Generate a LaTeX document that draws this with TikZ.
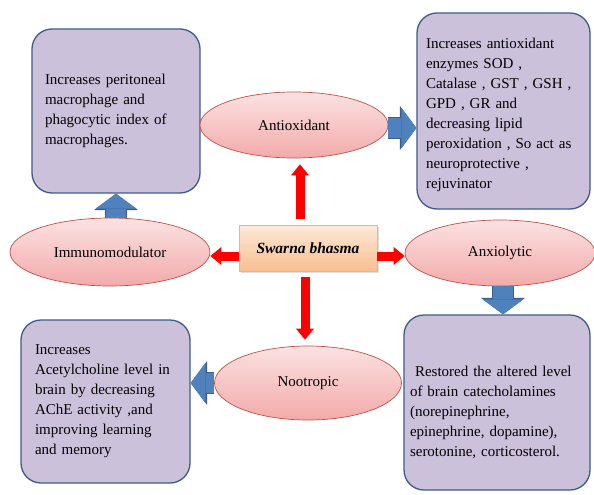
\documentclass[tikz,border=0pt]{standalone}
\usepackage{fontspec}
\setmainfont{Liberation Serif}
\usetikzlibrary{shapes.geometric,arrows.meta,shadows}

\begin{document}
\begin{tikzpicture}[x=1pt,y=-1pt,
  effectbox/.style={draw=boxline, line width=1.3pt, fill=boxfill, rounded corners=20pt, align=left, inner ysep=0pt, font=\fontsize{15}{20}\selectfont},
  actionoval/.style={ellipse, draw=ovalline, line width=0.7pt, top color=ovaltop, bottom color=ovalbot, inner sep=0pt, font=\fontsize{15}{20}\selectfont},
  drugbox/.style={draw=peachline, line width=0.7pt, top color=peachtop, bottom color=peachbot, drop shadow={opacity=0.25, shadow xshift=2pt, shadow yshift=-2pt}, font=\fontsize{15.5}{20}\selectfont\bfseries\itshape},
  redarrow/.style={draw=red, line width=9pt, -{Triangle[width=18pt,length=11pt,line width=0pt]}},
  bluearrow/.style={preaction={draw=boxline, line width=22pt, -{Triangle[width=44pt,length=16.5pt,line width=0pt]}}, draw=arrowblue, line width=20pt, -{Triangle[width=41pt,length=15pt,line width=0pt]}}]
\definecolor{boxfill}{RGB}{204,193,218}
\definecolor{boxline}{RGB}{62,92,138}
\definecolor{ovaltop}{RGB}{252,226,226}
\definecolor{ovalbot}{RGB}{243,170,170}
\definecolor{ovalline}{RGB}{192,80,77}
\definecolor{peachtop}{RGB}{253,233,217}
\definecolor{peachbot}{RGB}{249,190,143}
\definecolor{peachline}{RGB}{244,177,131}
\definecolor{arrowblue}{RGB}{79,129,189}
\useasboundingbox (0,0) rectangle (594,495);

% effect boxes
\node[effectbox, text width=142pt, inner xsep=13pt, minimum height=164pt] (immunofx) at (116,111) {Increases peritoneal\\ macrophage and\\ phagocytic index of\\ macrophages.};
\node[effectbox, text width=155pt, inner xsep=9pt, minimum height=196pt] (antioxfx) at (503.5,111) {\rule{0pt}{19pt}Increases antioxidant\\ enzymes SOD ,\\ Catalase , GST , GSH ,\\ GPD , GR and\\ decreasing lipid\\ peroxidation , So act as\\ neuroprotective ,\\ rejuvinator};
\node[effectbox, text width=141pt, inner xsep=14pt, minimum height=163pt] (nootfx) at (105.5,401.5) {Increases\\ Acetylcholine level in\\ brain by decreasing\\ AChE activity ,and\\ improving learning\\ and memory};
\node[effectbox, text width=174pt, inner xsep=6pt, minimum height=175pt] (anxiofx) at (497,402.5) {\rule{0pt}{30pt}\ Restored the altered level\\ of brain catecholamines\\ (norepinephrine,\\ epinephrine, dopamine),\\ serotonine, corticosterol.};

% actions
\node[actionoval, minimum width=188pt, minimum height=66pt] (antiox) at (294,125) {Antioxidant};
\node[actionoval, minimum width=200pt, minimum height=68pt] (immuno) at (110,252) {Immunomodulator};
\node[actionoval, minimum width=190pt, minimum height=66pt] (anxio) at (500,253) {Anxiolytic};
\node[actionoval, minimum width=187pt, minimum height=74pt] (noot) at (308,383) {Nootropic};

% drug
\node[drugbox, minimum width=138pt, minimum height=46pt] (swarna) at (308,248) {Swarna bhasma};

% red arrows
\draw[redarrow, shorten <=6pt, shorten >=6pt] ([xshift=-8pt]swarna.north) -- ([xshift=-8pt]swarna.north |- antiox.south); % up
\draw[redarrow, shorten <=6pt, shorten >=6pt] ([xshift=-3pt]swarna.south) -- ([xshift=-3pt]swarna.south |- noot.north); % down
\draw[redarrow] ([yshift=-8pt]swarna.west) -- ([yshift=-8pt]swarna.west -| immuno.east); % left
\draw[redarrow] ([yshift=-8pt]swarna.east) -- ([yshift=-8pt]swarna.east -| anxio.west); % right

% blue arrows
\draw[bluearrow] (immunofx.south |- immuno.north) -- (immunofx.south);
\draw[bluearrow] ([yshift=-3pt]antiox.east) -- ([yshift=-3pt]antiox.east -| antioxfx.west);
\draw[bluearrow] ([xshift=3pt]anxio.south) -- ([xshift=3pt]anxio.south |- anxiofx.north);
\draw[bluearrow] (noot.west) -- (noot.west -| nootfx.east);
\end{tikzpicture}
\end{document}
